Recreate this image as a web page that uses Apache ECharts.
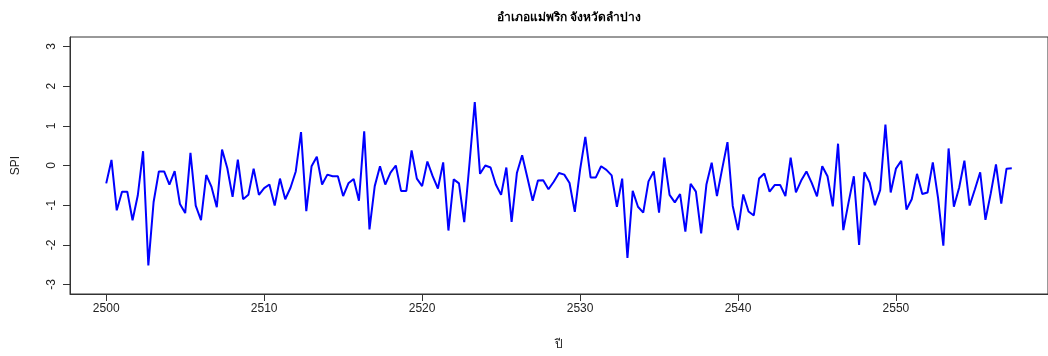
<!DOCTYPE html>
<html>
<head>
<meta charset="utf-8">
<script src="https://cdn.jsdelivr.net/npm/echarts@6.0.0/dist/echarts.min.js"></script>
<style>
  html, body { margin: 0; padding: 0; background: #fff; }
  #chart { width: 1048px; height: 356px; }
</style>
</head>
<body>
<div id="chart"></div>
<script>
// SPI, three values per year starting at 2500
const startYear = 2500
const perYear = 3
const spi = [
  -0.45, 0.14, -1.13, -0.66, -0.66, -1.38, -0.75, 0.36, -2.52, -0.92,
  -0.15, -0.15, -0.48, -0.14, -0.97, -1.20, 0.32, -1.01, -1.38, -0.24,
  -0.54, -1.05, 0.40, -0.07, -0.79, 0.15, -0.85, -0.74, -0.08, -0.74,
  -0.57, -0.48, -1.01, -0.33, -0.85, -0.56, -0.15, 0.84, -1.15, -0.02,
  0.22, -0.48, -0.23, -0.27, -0.27, -0.77, -0.45, -0.34, -0.89, 0.86,
  -1.61, -0.52, -0.02, -0.48, -0.18, 0.00, -0.64, -0.64, 0.38, -0.33,
  -0.52, 0.10, -0.27, -0.58, 0.08, -1.64, -0.35, -0.45, -1.43, 0.05,
  1.60, -0.21, 0.00, -0.05, -0.48, -0.74, -0.05, -1.42, -0.19, 0.26,
  -0.31, -0.89, -0.38, -0.37, -0.60, -0.41, -0.19, -0.23, -0.44, -1.17,
  -0.11, 0.72, -0.30, -0.30, -0.02, -0.11, -0.25, -1.04, -0.33, -2.33,
  -0.64, -1.04, -1.19, -0.40, -0.15, -1.19, 0.20, -0.74, -0.93, -0.72,
  -1.67, -0.46, -0.66, -1.71, -0.48, 0.07, -0.77, -0.08, 0.59, -1.02,
  -1.63, -0.73, -1.16, -1.26, -0.33, -0.20, -0.66, -0.49, -0.49, -0.77,
  0.20, -0.68, -0.38, -0.15, -0.44, -0.78, -0.02, -0.27, -1.03, 0.55,
  -1.63, -0.93, -0.27, -2.00, -0.17, -0.43, -1.00, -0.62, 1.03, -0.68,
  -0.08, 0.12, -1.11, -0.85, -0.21, -0.72, -0.68, 0.08, -0.82, -2.02,
  0.43, -1.04, -0.56, 0.12, -1.01, -0.60, -0.17, -1.37, -0.71, 0.03,
  -0.96, -0.08, -0.07
]
const xTicks = [2500, 2510, 2520, 2530, 2540, 2550]
const yTicks = [-3, -2, -1, 0, 1, 2, 3]

const points = spi.map((v, i) => [startYear + i / perYear, v])

// R style axis limits: data range padded by 4%
const xFirst = points[0][0]
const xLast = points[points.length - 1][0]
const xPad = (xLast - xFirst) * 0.04
const yPad = 6 * 0.04

const font = 'Liberation Sans, Arial, sans-serif'
const textColor = '#222'

const chart = echarts.init(document.getElementById('chart'), null, { renderer: 'canvas' })

chart.setOption({
  animation: false,
  backgroundColor: '#fff',
  title: {
    text: 'อำเภอแม่พริก จังหวัดลำปาง',
    left: 564,
    textAlign: 'center',
    top: 7,
    textStyle: { fontFamily: font, fontSize: 12, fontWeight: 'bold', color: '#000' }
  },
  grid: {
    left: 70,
    top: 37,
    width: 988,
    height: 263,
    show: true,
    borderColor: '#333',
    borderWidth: 1,
    containLabel: false
  },
  xAxis: {
    type: 'value',
    min: xFirst - xPad,
    max: xLast + xPad,
    name: 'ปี',
    nameLocation: 'middle',
    nameGap: 45,
    nameTextStyle: { fontFamily: font, fontSize: 12, color: textColor },
    splitLine: { show: false },
    axisLine: { show: true, onZero: false, lineStyle: { color: '#333' } },
    axisTick: { show: true, length: 7, customValues: xTicks, lineStyle: { color: '#333' } },
    axisLabel: {
      customValues: xTicks,
      formatter: v => String(v),
      margin: 9,
      fontFamily: font,
      fontSize: 12,
      color: textColor
    }
  },
  yAxis: {
    type: 'value',
    min: -3 - yPad,
    max: 3 + yPad,
    name: 'SPI',
    nameLocation: 'middle',
    nameGap: 48,
    nameRotate: 90,
    nameTextStyle: { fontFamily: font, fontSize: 12, color: textColor },
    splitLine: { show: false },
    axisLine: { show: true, onZero: false, lineStyle: { color: '#333' } },
    axisTick: { show: true, length: 7, customValues: yTicks, lineStyle: { color: '#333' } },
    axisLabel: { customValues: yTicks, rotate: 90, margin: 12, fontFamily: font, fontSize: 12, color: textColor }
  },
  series: [{
    type: 'line',
    data: points,
    symbol: 'none',
    lineStyle: { color: '#0000ff', width: 2 },
    z: 3
  }]
})
</script>
</body>
</html>
